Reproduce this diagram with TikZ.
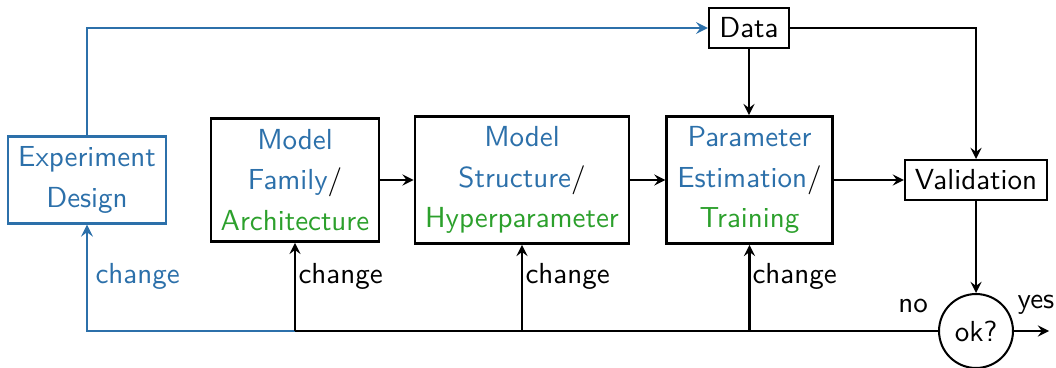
\documentclass[tikz,border=0pt]{standalone}
\usetikzlibrary{arrows,positioning,calc}
\definecolor{cblue}{RGB}{44,112,170}
\definecolor{cgreen}{RGB}{44,160,44}
\begin{document}
\begin{tikzpicture}[x=0.3448pt,y=-0.3448pt,>=stealth,
  every node/.style={font=\sffamily},
  bigbox/.style={draw,line width=0.95pt,align=center,inner sep=0pt},
  smallbox/.style={draw,line width=0.7pt,align=center,inner sep=0pt,minimum height=13.8pt},
  conn/.style={line width=0.7pt,->},
  lbl/.style={inner sep=0pt,anchor=west}]
\useasboundingbox (0,0) rectangle (1056,367);
\node[draw=cblue,line width=0.8pt,text=cblue,align=center,inner sep=0pt,minimum width=54.5pt,minimum height=30pt] (exp) at (87,180) {Experiment\\[2pt]Design};
\node[bigbox,minimum width=58pt,minimum height=42.4pt] (fam) at (295,180) {\textcolor{cblue}{Model}\\[2pt]\textcolor{cblue}{Family}/\\[2pt]\textcolor{cgreen}{Architecture}};
\node[bigbox,minimum width=73.8pt,minimum height=43.8pt] (str) at (522,180) {\textcolor{cblue}{Model}\\[2pt]\textcolor{cblue}{Structure}/\\[2pt]\textcolor{cgreen}{Hyperparameter}};
\node[bigbox,minimum width=57pt,minimum height=43.8pt] (par) at (749.5,180) {\textcolor{cblue}{Parameter}\\[2pt]\textcolor{cblue}{Estimation}/\\[2pt]\textcolor{cgreen}{Training}};
\node[smallbox,minimum width=27.6pt] (data) at (749,28) {Data};
\node[smallbox,minimum width=49pt] (val) at (976,180) {Validation};
\node[draw,line width=0.7pt,circle,inner sep=0pt,minimum size=25.5pt] (ok) at (976,331) {ok?};
\coordinate (b1) at (fam.south |- ok.west);
\coordinate (b2) at (str.south |- ok.west);
\coordinate (b3) at (par.south |- ok.west);
\coordinate (yesend) at (1049,331);
% connectors
\draw[conn,cblue,line width=0.8pt] (exp.north) |- (data.west);
\draw[conn] (data.east) -| (val.north);
\draw[conn] (data.south) -- (data.south |- par.north);
\draw[conn] (fam.east) -- (str.west);
\draw[conn] (str.east) -- (par.west);
\draw[conn] (par.east) -- (val.west);
\draw[conn] (val.south) -- (ok.north);
\draw[conn] (ok.east) -- (yesend);
\draw[line width=0.8pt] (ok.west) -- (b1);
\draw[conn,cblue,line width=0.8pt] (b1) -| (exp.south);
\draw[conn] (b1) -- (fam.south);
\draw[conn] (b2) -- (str.south);
\draw[conn] (b3) -- (par.south);
% labels
\node[lbl,text=cblue] (c0) at (95,276) {change};
\node[lbl] (c1) at (298,276) {change};
\node[lbl] (c2) at (525,276) {change};
\node[lbl] (c3) at (752,276) {change};
\node[inner sep=0pt] (no) at (913,306) {no};
\node[inner sep=0pt] (yes) at (1036,305) {yes};
\end{tikzpicture}
\end{document}
